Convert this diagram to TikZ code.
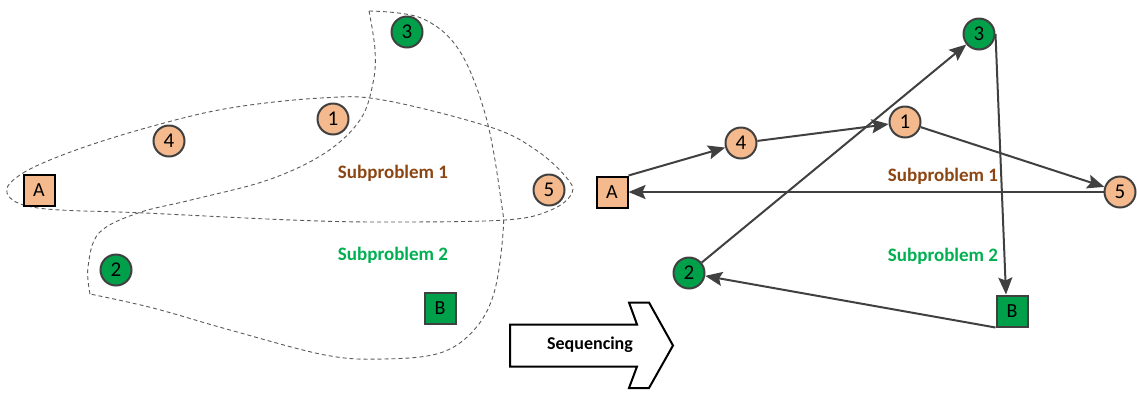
\documentclass[tikz,border=0pt]{standalone}
\usepackage{fontspec}
\setmainfont{Carlito}
\usetikzlibrary{arrows.meta}
\definecolor{peach}{RGB}{244,185,140}
\definecolor{leaf}{RGB}{0,160,75}
\definecolor{ink}{RGB}{64,64,64}
\definecolor{subone}{RGB}{140,70,20}
\definecolor{subtwo}{RGB}{0,176,80}
\definecolor{region}{RGB}{90,90,90}
\begin{document}
\begin{tikzpicture}[x=1pt,y=-1pt,
  city/.style={circle, draw=ink, line width=2pt, minimum size=31pt, inner sep=0pt,
    font=\fontsize{21}{21}\selectfont},
  depot/.style={rectangle, line width=2pt, minimum size=31pt, inner sep=0pt,
    font=\fontsize{20}{20}\selectfont},
  peachfill/.style={fill=peach},
  leaffill/.style={fill=leaf},
  sublabel/.style={font=\fontsize{19}{19}\selectfont\bfseries},
  zone/.style={draw=region, line width=0.9pt, dash pattern=on 4pt off 3pt},
  route/.style={draw=ink, line width=2pt, -{Stealth[length=17pt,width=14pt,inset=3pt]}},
  blockarrow/.style={draw=black, line width=2pt, fill=white, line join=miter}
]
\useasboundingbox (0,0) rectangle (1137,392);

% ---- clustering: dashed regions ----
\draw[zone] plot[smooth cycle, tension=0.6] coordinates {
  (7,193) (23,173) (76,150) (153,126) (230,108) (321,98) (383,100)
  (490,127) (536,150) (566,177) (572,193) (551,210) (505,220)
  (383,222) (291,220) (145,213) (38,208)};
\draw[zone] plot[smooth, tension=0.6] coordinates {
  (369,11) (421,18) (459,50) (486,117) (501,200) (503,233) (494,293)
  (474,330) (440,353) (383,359) (325,355) (230,330) (153,308) (90,294)};
\draw[zone] plot[smooth, tension=0.6] coordinates {
  (90,294) (88,267) (99,233) (138,213) (191,200) (268,180) (325,153)
  (360,120) (373,83) (375,50) (369,11)};

% ---- left: customers and depots ----
\node[depot, draw=black, peachfill] (lA) at (39,190) {A};
\node[city, peachfill] (l4) at (169,141) {4};
\node[city, peachfill] (l1) at (333,119) {1};
\node[city, leaffill] (l3) at (407,32) {3};
\node[city, peachfill] (l5) at (549,190) {5};
\node[city, leaffill] (l2) at (116,270) {2};
\node[depot, draw=ink, leaffill] (lB) at (440,308) {B};
\node[sublabel, text=subone] (ls1) at (393,173) {Subproblem 1};
\node[sublabel, text=subtwo] (ls2) at (393,255) {Subproblem 2};

% ---- sequencing block arrow ----
\draw[blockarrow] (510,324.5) -- (637,324.5) -- (629,302.5) -- (649,302.5)
  -- (673,345.5) -- (649,388) -- (629,388) -- (637,366.5) -- (510,366.5) -- cycle;
\node[font=\fontsize{18}{18}\selectfont\bfseries] (seq) at (590,345) {Sequencing};

% ---- right: routes ----
\node[depot, draw=black, peachfill] (rA) at (612,192) {A};
\node[city, peachfill] (r4) at (741,143) {4};
\node[city, peachfill] (r1) at (905,122) {1};
\node[city, leaffill] (r3) at (979,34) {3};
\node[city, peachfill] (r5) at (1120,192) {5};
\node[city, leaffill] (r2) at (689,273) {2};
\node[depot, draw=ink, leaffill] (rB) at (1012,311) {B};
\node[sublabel, text=subone] (rs1) at (943,176) {Subproblem 1};
\node[sublabel, text=subtwo] (rs2) at (943,256) {Subproblem 2};

\draw[route] (rA.north east) -- (r4);
\draw[route] (r4) -- (r1);
\draw[route] (r1) -- (r5);
\draw[route] (r5) -- (rA);
\draw[route] (r2) -- (r3);
\draw[route] (r3.east) -- ([xshift=-6pt]rB.north);
\draw[route] (rB.south west) -- (r2);
\end{tikzpicture}
\end{document}
